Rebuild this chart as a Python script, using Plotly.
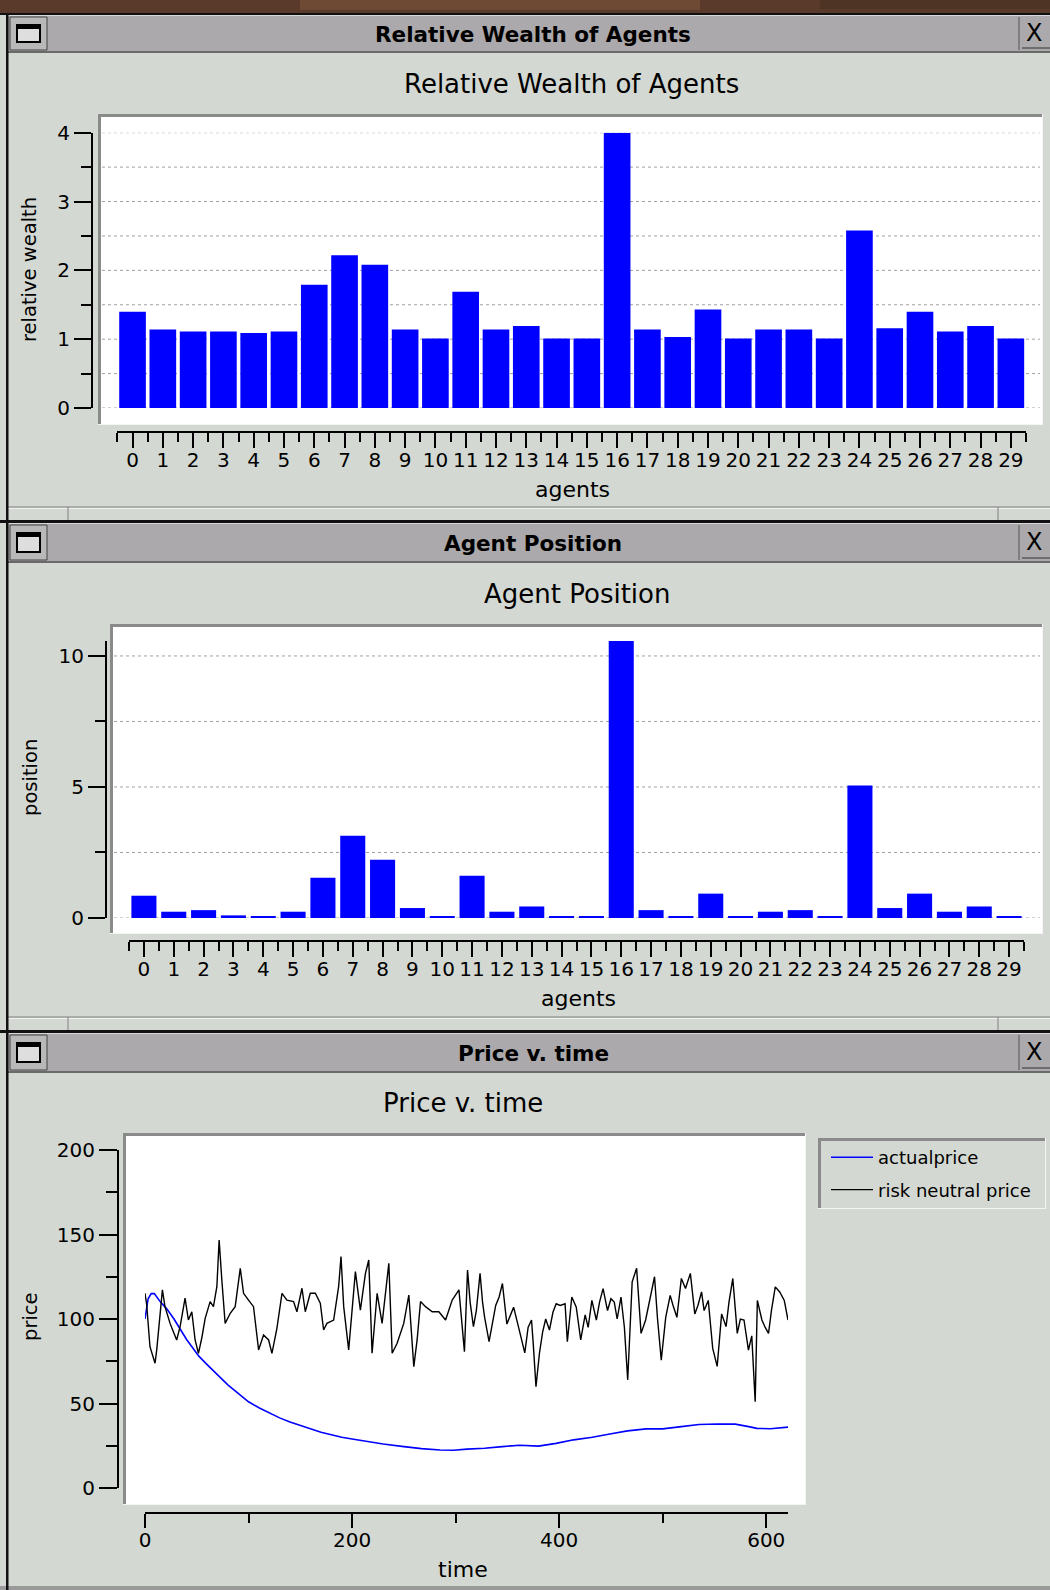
import numpy as np
import plotly.graph_objects as go

OFF = 0
W, H = 1050, 1590

# ---------------- data ----------------
agents = list(range(30))
relative_wealth = [1.40, 1.14, 1.11, 1.11, 1.09, 1.11, 1.79, 2.22, 2.08, 1.14,
                   1.01, 1.69, 1.14, 1.19, 1.01, 1.01, 4.00, 1.14, 1.03, 1.43,
                   1.01, 1.14, 1.14, 1.01, 2.58, 1.16, 1.40, 1.11, 1.19, 1.01]
position = [0.85, 0.24, 0.30, 0.10, 0.04, 0.24, 1.54, 3.14, 2.22, 0.38,
            0.04, 1.61, 0.24, 0.44, 0.04, 0.04, 10.57, 0.30, 0.04, 0.93,
            0.04, 0.24, 0.30, 0.04, 5.06, 0.38, 0.93, 0.24, 0.44, 0.04]

time_actual = [0, 3, 6, 9, 15, 21, 28, 34, 40, 46, 52, 60, 70, 80, 90, 100, 110, 120,
               130, 140, 150, 160, 170, 180, 190, 200, 215, 230, 250, 267, 285, 298,
               311, 328, 345, 362, 380, 397, 414, 432, 449, 466, 484, 500, 518, 535,
               553, 570, 583, 591, 604, 621]
actual_price = [100, 112, 115, 115, 110, 106, 100, 94, 88, 83, 78, 73, 67, 61, 56, 51,
                47.5, 44.5, 41.5, 39, 37, 35, 33, 31.5, 30, 29, 27.5, 26, 24.5, 23.3,
                22.5, 22.3, 23, 23.5, 24.5, 25.3, 24.8, 26.4, 28.5, 30, 32, 33.8, 35,
                35, 36.3, 37.6, 37.9, 37.8, 36.3, 35.3, 35.1, 36]

time_rn = [0, 1.6, 4.8, 8, 9.7, 11.3, 14.5, 16.8, 19.3, 24.2, 27.4, 30.6, 33.9, 37.1,
           38.7, 41.9, 45.2, 48.4, 51.6, 54.8, 58.1, 62.9, 66.1, 69.4, 71.6, 74.2, 77.4,
           82.3, 87.1, 92, 95.2, 100, 104.8, 109.7, 114.5, 119.4, 122.6, 127.4, 132.3,
           137.1, 143.5, 146.7, 151.6, 154.8, 159.6, 164.5, 169.3, 172.5, 175.7, 182.2,
           187, 189.3, 191.9, 196.7, 199.9, 203.2, 208, 212.9, 216.1, 219.3, 224.2, 229,
           235.5, 238.7, 243.5, 249.9, 254.8, 259.6, 262.8, 266.1, 270.9, 277.4, 283.8,
           290.3, 296.7, 303.2,
           308.5, 311.5, 314, 317.2, 320, 323.6, 326, 328, 332.3, 335, 338.7, 342, 345.2,
           349.5, 353, 356, 360.3, 363, 366.8, 370, 373.3, 375, 377.6, 381, 384.1, 387,
           390.6, 394, 397.1, 401, 405.7, 407.9, 412.2, 416.5, 420.8, 425.1, 428, 431.6,
           435.9, 439, 442.4, 446.7, 450, 453.2, 456, 459.7, 463, 466.2, 470.5, 474.8,
           479.1, 483.5, 487, 492.1, 495, 498.6, 502.9, 507.2, 510, 513.7, 518, 522,
           526.7, 531, 534, 537.5, 540, 544, 548.3, 552.6, 556.9, 561.2, 564, 567.7, 572,
           575, 578.5, 582.8, 586, 589.3, 591.4, 595.8, 599, 602.2, 605, 608.7, 613,
           617.4, 621]
risk_neutral_price = [115.2, 108.7, 83.6, 76.7, 73.8, 81.6, 101.4, 117.2, 107.3, 97.4,
                      92.5, 87.6, 95.5, 106.3, 112.3, 99.4, 104.3, 87.6, 79.7, 88.6,
                      100.4, 110.3, 107.3, 119.1, 146.7, 123.1, 97.4, 103.4, 107.3, 130,
                      115.2, 111.2, 107.3, 81.7, 90.5, 87.6, 79.7, 94.5, 115.2, 111.2,
                      110.3, 104.3, 118.2, 104.3, 115.2, 115.2, 109.3, 93.5, 97.4, 99.4,
                      119.1, 136.9, 107.3, 81.7, 107.3, 128, 105.3, 127, 134.9, 79.7,
                      115.2, 97.4, 133, 79.7, 85.6, 97.4, 114.2, 71.8, 87.6, 110.3, 107.3,
                      104.3, 104.3, 99.4, 111.2, 117.2,
                      80.7, 129, 110, 95.5, 105, 127, 110, 101, 86.6, 95, 108, 113, 121,
                      97, 103, 107, 96.4, 90, 80, 95, 99.4, 85, 60, 80, 92.5, 100, 93.5,
                      104, 109, 108, 109, 86.6, 113, 107, 87.6, 102.4, 95, 111, 99.4, 110,
                      118, 105, 112, 110, 100, 113, 95, 64, 122, 130, 91.5, 99.4, 110, 125,
                      100, 75.7, 101, 114, 108, 101, 124, 118, 127, 103, 108, 116, 105,
                      111, 82.6, 72, 103, 95.5, 110, 124, 91.5, 100, 99.4, 81.6, 90, 51,
                      111, 99.4, 95, 91.5, 105, 119, 116, 111, 99.4]

window_titles = ["Relative Wealth of Agents", "Agent Position", "Price v. time"]
x_labels = ["agents", "agents", "time"]
y_labels = ["relative wealth", "position", "price"]
series_names = ["actualprice", "risk neutral price"]

# ---------------- styling helpers ----------------
PANEL = "#d4d8d2"
TBAR = "#aba9ab"
DARK = "#8a8a8a"
FONT = "DejaVu Sans"
RW = 1050  # window width (px)


def px(x):
    return (x - OFF) / W


def py(y):
    return 1 - (y - OFF) / H


shapes = []


def rect(x0, y0, x1, y1, fill, line=None, lw=0, layer="below"):
    shapes.append(dict(type="rect", xref="paper", yref="paper",
                       x0=px(x0), x1=px(x1), y0=py(y1), y1=py(y0),
                       fillcolor=fill, line=dict(width=lw, color=line or fill),
                       layer=layer))


def seg(x0, y0, x1, y1, color, w=1, layer="below"):
    shapes.append(dict(type="line", xref="paper", yref="paper",
                       x0=px(x0), x1=px(x1), y0=py(y0), y1=py(y1),
                       line=dict(width=w, color=color), layer=layer))


annotations = []


def text(t, x, y, size, weight="normal", angle=0, xanchor="center", family=FONT):
    annotations.append(dict(text=t, x=px(x), y=py(y), xref="paper", yref="paper",
                            showarrow=False, xanchor=xanchor, yanchor="middle",
                            textangle=angle,
                            font=dict(family=family, size=size, color="black",
                                      weight=weight)))


# top desktop strip
rect(0, 0, RW, 13, "#5a3b2b")
rect(300, 0, 700, 10, "#6e4a34")
rect(820, 0, 1050, 9, "#4e3425")

# windows: (black line top, title bar top, title bar bottom, window bottom strip top)
wins = [(13, 15, 53, 507), (520, 523, 563, 1017), (1030, 1033, 1073, None)]
for i, (bl, t0, t1, sb) in enumerate(wins):
    rect(0, bl, RW, t0, "#111111")
    rect(8, t0, RW, t1, TBAR)
    seg(8, t0 + 0.5, RW, t0 + 0.5, "#d8d8d8", 1)
    seg(8, t1 - 1, RW, t1 - 1, "#6a6a6a", 2)
    # left menu button
    rect(10, t0 + 2, 47, t1 - 3, "#b8b8b8", "#444444", 1)
    rect(17, t0 + 10, 40, t1 - 11, "#dedede", "#000000", 2)
    rect(17, t0 + 10, 40, t0 + 14, "#000000")
    # close button
    seg(1019, t0 + 2, 1019, t1 - 3, "#555555", 1)
    seg(1022, t1 - 5, RW, t1 - 5, "#333333", 1)
    text("X", 1034, (t0 + t1) / 2 - 1, 24, family="DejaVu Sans")
    text(window_titles[i], 533, (t0 + t1) / 2 + 0.5, 21.5, weight="bold")
    if sb is not None:
        seg(8, sb, RW, sb, "#808080", 1)
        seg(8, sb + 1.5, RW, sb + 1.5, "#f2f2f2", 1)
        seg(68, sb, 68, sb + 13, "#808080", 1)
        seg(998, sb, 998, sb + 13, "#808080", 1)
rect(0, 1586, RW, 1590, "#9a9a9a")
# left window border
rect(6, 13, 8.5, 1590, "#111111")


def sunken(x0, y0, x1, y1, fill="white"):
    rect(x0, y0, x1, y1, fill)
    rect(x0, y0, x1, y0 + 3, DARK)
    rect(x0, y0, x0 + 3, y1, DARK)
    seg(x0, y1 - 0.5, x1, y1 - 0.5, "#f4f4f4", 1)
    seg(x1 - 0.5, y0, x1 - 0.5, y1, "#f4f4f4", 1)


sunken(98, 114, 1043, 425)
sunken(110, 624, 1043, 934)
sunken(123, 1133, 806, 1505)
sunken(818, 1138, 1046, 1209, fill=PANEL)

# dotted grid lines for the bar charts
for v in np.arange(0, max(relative_wealth) + 1e-9, 0.5):
    shapes.append(dict(type="line", xref="paper", yref="y", x0=px(102), x1=px(1040),
                       y0=v, y1=v, line=dict(color="#a0a0a0", width=1, dash="dot"),
                       layer="below"))
for v in np.arange(0, max(position) + 1e-9, 2.5):
    shapes.append(dict(type="line", xref="paper", yref="y2", x0=px(114), x1=px(1040),
                       y0=v, y1=v, line=dict(color="#a0a0a0", width=1, dash="dot"),
                       layer="below"))

# titles and axis labels
text(window_titles[0], 571, 84, 26)
text(window_titles[1], 577, 594, 26)
text(window_titles[2], 463, 1103, 26)
text(x_labels[0], 572, 490, 22)
text(x_labels[1], 578, 998, 22)
text(x_labels[2], 463, 1569, 22)
text(y_labels[0], 30, 270, 19.5, angle=-90)
text(y_labels[1], 30, 778, 19.5, angle=-90)
text(y_labels[2], 30, 1317, 19.5, angle=-90)

# ---------------- traces ----------------
fig = go.Figure()
fig.add_trace(go.Bar(x=agents, y=relative_wealth, width=0.88,
                     marker=dict(color="#0000ff", line=dict(width=0)),
                     xaxis="x", yaxis="y", showlegend=False, hoverinfo="skip"))
fig.add_trace(go.Bar(x=agents, y=position, width=0.84,
                     marker=dict(color="#0000ff", line=dict(width=0)),
                     xaxis="x2", yaxis="y2", showlegend=False, hoverinfo="skip"))
fig.add_trace(go.Scatter(x=time_actual, y=actual_price, mode="lines",
                         line=dict(color="#0000ff", width=1.6), legendgroup="a",
                         name=series_names[0], xaxis="x3", yaxis="y3"))
fig.add_trace(go.Scatter(x=time_rn, y=risk_neutral_price, mode="lines",
                         line=dict(color="black", width=1.4), legendgroup="b",
                         name=series_names[1], xaxis="x3", yaxis="y3"))


def axis(domain, pos, rng, dtick, mdtick, ticklen, mticklen, standoff=0):
    return dict(domain=domain, range=rng, anchor="free", position=pos,
                automargin=False, ticklabelstandoff=standoff,
                showline=True, linecolor="black", linewidth=2,
                ticks="outside", ticklen=ticklen, tickwidth=2, tickcolor="black",
                tickmode="linear", tick0=0, dtick=dtick,
                minor=dict(ticks="outside", ticklen=mticklen, tickwidth=2,
                           tickcolor="black", dtick=mdtick, showgrid=False),
                showgrid=False, zeroline=False, fixedrange=True,
                tickfont=dict(family=FONT, size=20, color="black"))


n = len(agents)
layout = dict(
    width=W, height=H, autosize=False,
    margin=dict(l=0, r=0, t=0, b=0, pad=0, autoexpand=False),
    paper_bgcolor=PANEL, plot_bgcolor="rgba(0,0,0,0)",
    showlegend=True,
    legend=dict(x=px(826), y=py(1139), xanchor="left", yanchor="top",
                bgcolor="rgba(0,0,0,0)", borderwidth=0, itemwidth=42,
                font=dict(family=FONT, size=18, color="black"), tracegroupgap=6),
    xaxis=axis([px(117.4), px(1026)], py(432), [-0.5, n - 0.5], 1, 0.5, 15, 9, -5),
    yaxis=axis([py(408), py(132.7)], px(92), [0, max(relative_wealth)], 1, 0.5, 17, 10),
    xaxis2=axis([px(129), px(1024)], py(941), [-0.5, n - 0.5], 1, 0.5, 15, 9, -5),
    yaxis2=axis([py(918), py(641)], px(106), [0, max(position)], 5, 2.5, 17, 10),
    xaxis3=axis([px(145), px(788)], py(1513), [0, max(time_rn)], 200, 100, 14, 9, -5),
    yaxis3=axis([py(1488), py(1150)], px(118), [0, 200], 50, 25, 18, 11),
    shapes=shapes, annotations=annotations,
    bargap=0.12,
)
fig.update_layout(**layout)

fig.write_html("out.html", config={"displayModeBar": False},
               post_script=("document.documentElement.style.margin='0';"
                            "document.body.style.margin='0';"
                            "document.body.style.padding='0';"
                            "document.documentElement.style.overflow='hidden';"
                            "document.body.style.overflow='hidden';"))
